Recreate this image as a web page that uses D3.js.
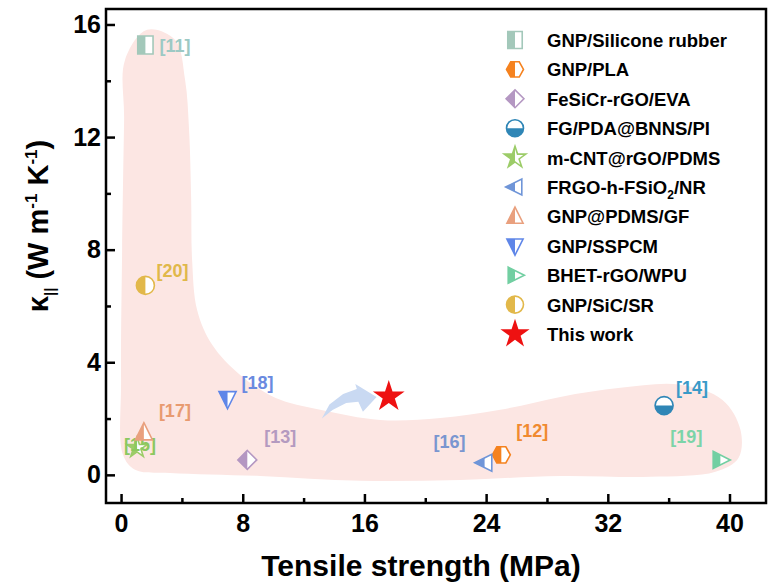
<!DOCTYPE html>
<html>
<head>
<meta charset="utf-8">
<script src="https://cdn.jsdelivr.net/npm/d3@7/dist/d3.min.js"></script>
<style>
body { margin: 0; background: #fff; }
svg { font-family: Arial, "Liberation Sans", sans-serif; font-weight: bold; }
</style>
</head>
<body>
<svg id="plotSvg"></svg>
<script>
// chart values
const names = ["GNP/Silicone rubber", "GNP/PLA", "FeSiCr-rGO/EVA", "FG/PDA@BNNS/PI", "m-CNT@rGO/PDMS",
    "FRGO-h-FSiO2/NR", "GNP@PDMS/GF", "GNP/SSPCM", "BHET-rGO/WPU", "GNP/SiC/SR", "This work"];
const tensile = [1.6, 25.0, 8.3, 35.7, 1.05, 23.9, 1.5, 7.0, 39.4, 1.6, 17.6];
const kappa = [15.27, 0.71, 0.53, 2.46, 0.96, 0.43, 1.5, 2.7, 0.53, 6.73, 2.78];
const refs = ["[11]", "[12]", "[13]", "[14]", "[15]", "[16]", "[17]", "[18]", "[19]", "[20]", ""];
const shapes = ["square", "hexagon", "diamond", "circle", "star", "triLeft", "triUp", "triDown", "triRight", "circle", "star"];
const halves = ["left", "left", "left", "bottom", "left", "left", "left", "left", "left", "left", "full"];
const colors = ["#a3c8ba", "#f5821f", "#b497c2", "#2f86b6", "#9ccc68", "#6f95d8", "#e9a07e", "#5f86e8", "#72cfa2", "#e2b84a", "#ee1111"];
const refColors = ["#9cc9c4", "#f08a30", "#b49ac0", "#3a9ac8", "#8cc860", "#7a96d0", "#e89a70", "#6a8ae0", "#7cd4a8", "#e0b84a", "#000"];
const labelOffsets = [[14, 0], [15, -24], [17, -23], [12, -18], [-13, -3], [-51, -21], [15, -22], [14, -16], [-50, -23], [11, -15], [0, 0]];
const xTicks = [0, 8, 16, 24, 32, 40];
const yTicks = [0, 4, 8, 12, 16];

// shaded background region (data units)
const blobX = [1.71, 3.55, 4.21, 4.47, 4.61, 4.67, 5.0, 5.99, 7.83, 10.13, 13.09, 17.04, 20.99, 24.93, 28.88, 32.83, 36.78,
    39.54, 40.72, 40.59, 39.08, 34.8, 28.88, 22.3, 15.72, 9.14, 3.22, 0.92, 0.13, 0, 0.07, 0.2, 0.26];
const blobY = [15.81, 15.45, 14.03, 12.26, 9.77, 7.64, 5.86, 4.62, 3.55, 2.74, 2.31, 1.95, 2.02, 2.31, 2.77, 3.09, 3.2,
    2.66, 1.6, 0.6, 0.11, -0.07, -0.04, -0.18, -0.21, -0.04, 0.07, 0.18, 0.71, 3.37, 7.99, 12.61, 14.74];

// curved arrow pointing at "This work" (data units)
const arrowX = [13.2, 13.7, 14.6, 15.5, 15.4, 16.8, 15.9, 15.6, 14.8, 13.9];
const arrowY = [2.0, 2.5, 2.87, 3.05, 3.23, 2.77, 2.24, 2.6, 2.55, 2.3];

const margin = { top: 9, right: 3, bottom: 82, left: 106 },
    width = 769 - margin.left - margin.right,
    height = 585 - margin.top - margin.bottom;

const svg = d3.select("#plotSvg")
    .attr("width", 769)
    .attr("height", 585);

const defs = svg.append("defs");
defs.append("clipPath").attr("id", "clipLeft")
    .append("rect").attr("x", -30).attr("y", -30).attr("width", 30).attr("height", 60);
defs.append("clipPath").attr("id", "clipBottom")
    .append("rect").attr("x", -30).attr("y", 0).attr("width", 60).attr("height", 30);

const g = svg.append("g").attr("transform", `translate(${margin.left},${margin.top})`);

const x = d3.scaleLinear().domain([-0.99, 42.4]).range([0, width]);
const y = d3.scaleLinear().domain([-1.0, 16.55]).range([height, 0]);

// background blob
const blob = blobX.map((v, i) => [v, blobY[i]]);
g.append("path")
    .attr("d", d3.line().x(d => x(d[0])).y(d => y(d[1])).curve(d3.curveCatmullRomClosed.alpha(0.5))(blob))
    .attr("fill", "#fce6e3");

// arrow
const arrow = arrowX.map((v, i) => [v, arrowY[i]]);
g.append("path")
    .attr("d", d3.line().x(d => x(d[0])).y(d => y(d[1])).curve(d3.curveLinearClosed)(arrow))
    .attr("fill", "#c9d9f2");

function shapePath(type, r) {
    if (type === "circle") return d3.symbol(d3.symbolCircle, Math.PI * r * r)();
    if (type === "star") return d3.symbol(d3.symbolStar, r * r * 2.0)();
    let pts;
    const a = r * 0.95, b = r * 0.8;
    if (type === "square") pts = [[-r * 0.85, -r], [r * 0.85, -r], [r * 0.85, r], [-r * 0.85, r]];
    if (type === "hexagon") pts = [[-r, 0], [-r / 2, -r * 0.9], [r / 2, -r * 0.9], [r, 0], [r / 2, r * 0.9], [-r / 2, r * 0.9]];
    if (type === "diamond") pts = [[0, -r * 1.05], [r * 1.05, 0], [0, r * 1.05], [-r * 1.05, 0]];
    if (type === "triUp") pts = [[0, -r * 1.1], [a, b], [-a, b]];
    if (type === "triDown") pts = [[0, r * 1.1], [a, -b], [-a, -b]];
    if (type === "triLeft") pts = [[-r * 1.1, 0], [b, -a], [b, a]];
    if (type === "triRight") pts = [[r * 1.1, 0], [-b, -a], [-b, a]];
    return "M" + pts.map(p => p.join(",")).join("L") + "Z";
}

function drawMarker(sel, i, r) {
    const d = shapePath(shapes[i], r);
    if (halves[i] === "full") {
        sel.append("path").attr("d", d).attr("fill", colors[i]);
        return;
    }
    sel.append("path").attr("d", d).attr("fill", "#fff")
        .attr("stroke", colors[i]).attr("stroke-width", 1.6);
    sel.append("path").attr("d", d).attr("fill", colors[i])
        .attr("clip-path", halves[i] === "bottom" ? "url(#clipBottom)" : "url(#clipLeft)");
}

// axes (ticks inward)
const xAxis = g.append("g").attr("transform", `translate(0,${height})`)
    .call(d3.axisBottom(x).tickValues(d3.range(0, 41, 4)).tickSize(-8).tickPadding(11)
        .tickFormat(d => xTicks.includes(d) ? d : ""));
xAxis.selectAll(".tick line").attr("y2", d => xTicks.includes(d) ? -9 : -5);
const yAxis = g.append("g")
    .call(d3.axisLeft(y).tickValues(d3.range(0, 17, 2)).tickSize(-8).tickPadding(5)
        .tickFormat(d => yTicks.includes(d) ? d : ""));
yAxis.selectAll(".tick line").attr("x2", d => yTicks.includes(d) ? 9 : 5);
[xAxis, yAxis].forEach(ax => {
    ax.select(".domain").remove();
    ax.selectAll(".tick line").attr("stroke", "#000").attr("stroke-width", 2.5);
    ax.selectAll("text").attr("fill", "#000").style("font-size", "25px").style("font-weight", "bold")
        .style("font-family", "Arial, 'Liberation Sans', sans-serif");
});

g.append("rect")
    .attr("width", width).attr("height", height)
    .attr("fill", "none").attr("stroke", "#000").attr("stroke-width", 2.5);

// points
names.forEach((n, i) => {
    const m = g.append("g").attr("transform", `translate(${x(tensile[i])},${y(kappa[i])})`);
    drawMarker(m, i, i === 10 ? 12.5 : (shapes[i] === "star" ? 8 : 9));
    if (refs[i]) {
        m.append("text")
            .attr("x", labelOffsets[i][0]).attr("y", labelOffsets[i][1] + 6.5)
            .attr("fill", refColors[i]).style("font-size", "18px")
            .text(refs[i]);
    }
});

// legend
const legend = svg.append("g").attr("transform", "translate(515,40)");
names.forEach((n, i) => {
    const row = legend.append("g").attr("transform", `translate(0,${i * 29.4})`);
    drawMarker(row, i, i === 10 ? 11.5 : 8.5);
    const t = row.append("text").attr("x", 32).attr("y", 7).attr("fill", "#000").style("font-size", "18.5px");
    if (n === "FRGO-h-FSiO2/NR") {
        t.append("tspan").text("FRGO-h-FSiO");
        t.append("tspan").attr("dy", 5).style("font-size", "12px").text("2");
        t.append("tspan").attr("dy", -5).text("/NR");
    } else {
        t.text(n);
    }
});

// axis titles
svg.append("text")
    .attr("x", 421).attr("y", 576)
    .attr("text-anchor", "middle").style("font-size", "30px")
    .text("Tensile strength (MPa)");

const yt = svg.append("text")
    .attr("transform", "translate(48,226) rotate(-90)")
    .attr("text-anchor", "middle").style("font-size", "29px");
yt.append("tspan").text("κ");
yt.append("tspan").attr("dy", 7).style("font-size", "15px").text("||");
yt.append("tspan").attr("dy", -7).text(" (W m");
yt.append("tspan").attr("dy", -11).style("font-size", "17px").text("-1");
yt.append("tspan").attr("dy", 11).text(" K");
yt.append("tspan").attr("dy", -11).style("font-size", "17px").text("-1");
yt.append("tspan").attr("dy", 11).text(")");
</script>
</body>
</html>
